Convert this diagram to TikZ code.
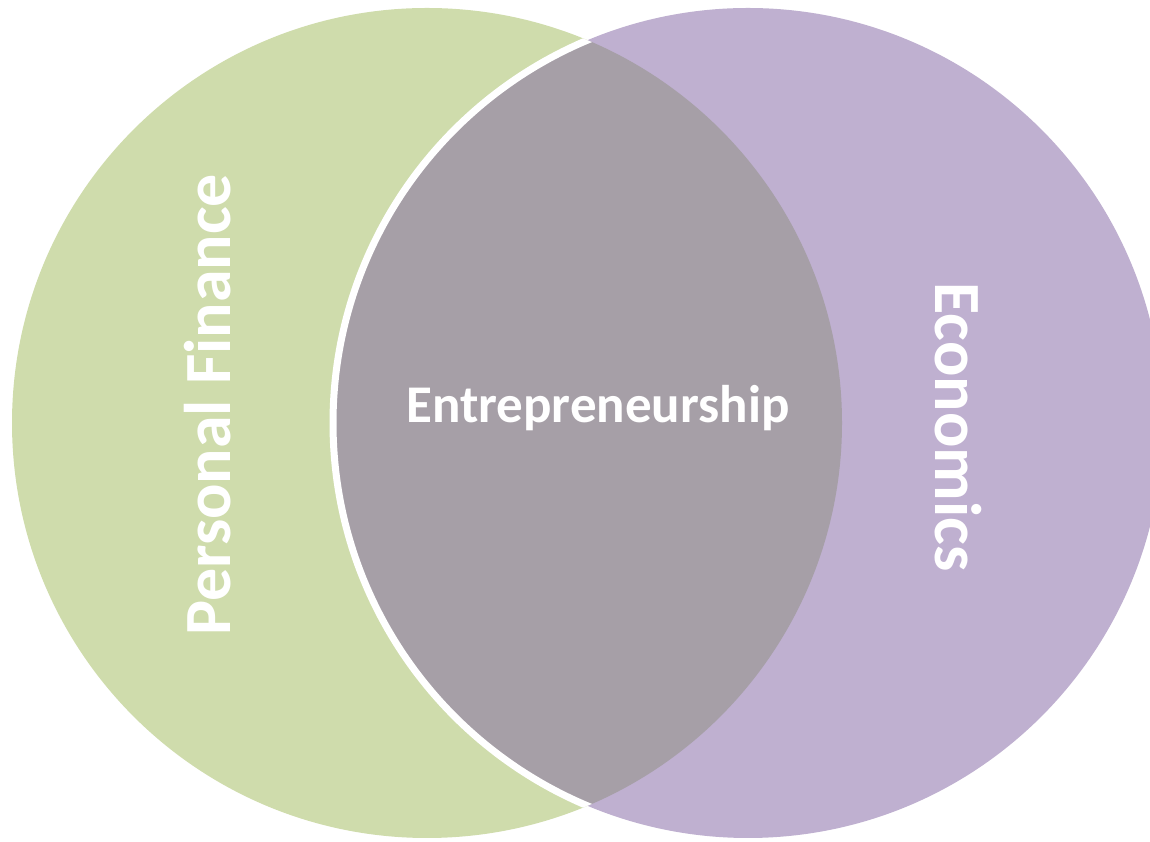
\documentclass[tikz,border=0pt]{standalone}
\usepackage{fontspec}
\setmainfont{Carlito}
\definecolor{pfgreen}{HTML}{CFDCAC}
\definecolor{ecpurple}{HTML}{BFB0D0}
\definecolor{engray}{HTML}{A69FA7}
\begin{document}
\begin{tikzpicture}[x=1pt,y=1pt,
  lbl/.style={text=white,inner sep=0pt},
  mid/.style={lbl,font=\bfseries\fontsize{53}{60}\selectfont},
  side/.style={lbl,font=\bfseries\fontsize{66}{74}\selectfont}]
\useasboundingbox (0,0) rectangle (1150,842);
\begin{scope}
\clip (0,0) rectangle (1150,842);
\fill[pfgreen] (427,419) circle (415);
\fill[ecpurple] (748,419) circle (415);
\begin{scope}
\clip (427,419) circle (415);
\fill[engray] (748,419) circle (415);
\draw[white,line width=7] (748,419) circle (415);
\end{scope}
\end{scope}
\node[mid] (ent) at (598,434) {Entrepreneurship};
\node[side,rotate=90] (pf) at (208,437) {Personal Finance};
\node[side,rotate=-90] (ec) at (958,415) {Economics};
\end{tikzpicture}
\end{document}
